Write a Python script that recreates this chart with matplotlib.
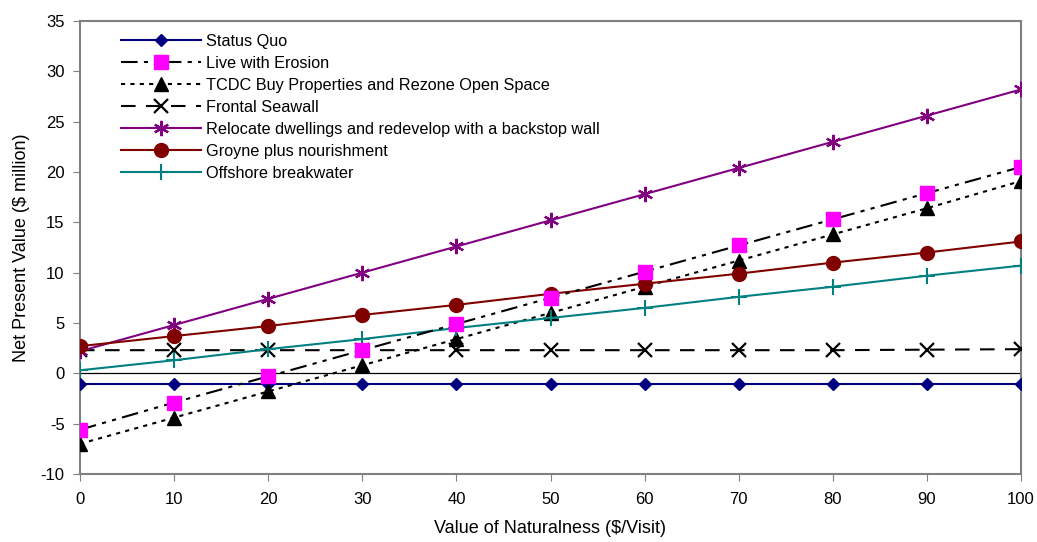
import matplotlib
matplotlib.use("Agg")
import matplotlib.pyplot as plt

plt.rcParams['font.family'] = ['Liberation Sans', 'DejaVu Sans']
plt.rcParams['axes.unicode_minus'] = False

x = [0, 10, 20, 30, 40, 50, 60, 70, 80, 90, 100]
status_quo = [-1.05] * 11
live_erosion = [-5.6, -2.9, -0.3, 2.3, 4.9, 7.5, 10.1, 12.7, 15.3, 17.9, 20.5]
tcdc = [-7.0, -4.4, -1.8, 0.8, 3.4, 6.0, 8.6, 11.2, 13.8, 16.4, 19.1]
seawall = [2.3, 2.3, 2.3, 2.3, 2.3, 2.3, 2.3, 2.3, 2.3, 2.35, 2.4]
relocate = [2.2, 4.8, 7.4, 10.0, 12.6, 15.2, 17.8, 20.4, 23.0, 25.6, 28.2]
groyne = [2.7, 3.7, 4.7, 5.8, 6.8, 7.9, 8.9, 9.9, 11.0, 12.0, 13.1]
offshore = [0.3, 1.3, 2.4, 3.4, 4.5, 5.5, 6.5, 7.6, 8.6, 9.7, 10.7]

fig = plt.figure(figsize=(10.37, 5.42), dpi=100)
ax = fig.add_axes([80/1037, 1-474/542, (1021-80)/1037, (474-21)/542])

ax.axhline(0, color='black', lw=0.9, zorder=1)

lw = 1.5
ax.plot(x, status_quo, color='#000080', lw=lw, marker='D', ms=6.5, mfc='#000080', mec='#000080',
        label='Status Quo', zorder=3)
ax.plot(x, live_erosion, color='black', lw=lw, dashes=(8, 3, 2, 3, 2, 3), marker='s', ms=10, mfc='#FF00FF',
        mec='#FF00FF', label='Live with Erosion', zorder=4)
ax.plot(x, tcdc, color='black', lw=lw, dashes=(2, 2.5), marker='^', ms=10, mfc='black', mec='black',
        label='TCDC Buy Properties and Rezone Open Space', zorder=3)
ax.plot(x, seawall, color='black', lw=lw, dashes=(7, 5), marker='x', ms=10, mew=1.6,
        label='Frontal Seawall', zorder=3)
ax.plot(x, relocate, color='#800080', lw=lw, marker=(6, 2, 0), ms=11, mew=1.6,
        label='Relocate dwellings and redevelop with a backstop wall', zorder=3)
ax.plot(x, groyne, color='#800000', lw=lw, marker='o', ms=10, mfc='#800000', mec='#800000',
        label='Groyne plus nourishment', zorder=3)
ax.plot(x, offshore, color='#008080', lw=lw, marker='+', ms=11, mew=1.5,
        label='Offshore breakwater', zorder=3)

ax.set_xlim(0, 100)
ax.set_ylim(-10, 35)
ax.set_xticks(range(0, 101, 10))
ax.set_yticks(range(-10, 36, 5))
ax.tick_params(labelsize=12, direction='out', length=5, color='#808080', pad=6)
ax.tick_params(axis='x', pad=8)
for s in ax.spines.values():
    s.set_color('#808080')
    s.set_linewidth(1.5)
ax.set_xlabel('Value of Naturalness ($/Visit)', fontsize=13, labelpad=9)
ax.set_ylabel('Net Present Value ($ million)', fontsize=13, labelpad=8)

leg = ax.legend(loc='upper left', bbox_to_anchor=(121/1037, 1-34/542), bbox_transform=fig.transFigure,
                frameon=False, fontsize=11.7, handlelength=4.9, handletextpad=0.3,
                labelspacing=0.43, borderpad=0, borderaxespad=0)

fig.savefig('out.png', dpi=100)
